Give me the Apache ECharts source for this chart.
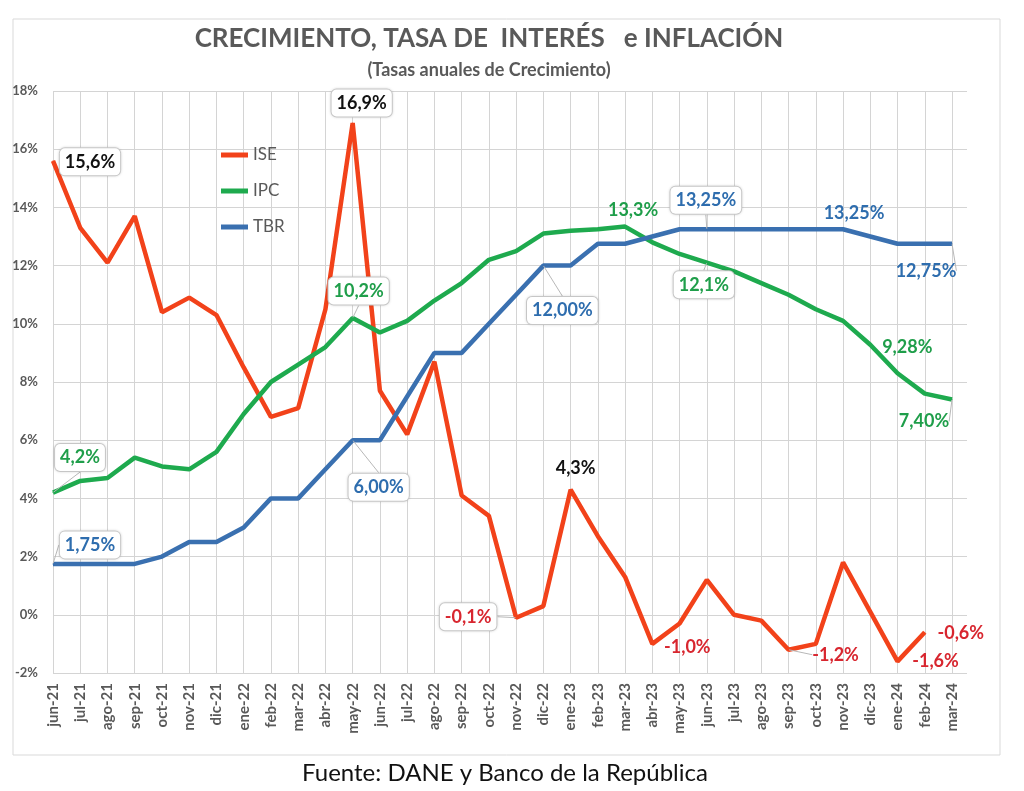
<!DOCTYPE html>
<html><head><meta charset="utf-8">
<script src="https://cdn.jsdelivr.net/npm/echarts@6/dist/echarts.min.js"></script>
<style>html,body{margin:0;padding:0;background:#fff}#c{width:1024px;height:791px}</style>
</head><body><div id="c"></div>
<script>
const categories = ['jun-21','jul-21','ago-21','sep-21','oct-21','nov-21','dic-21','ene-22','feb-22','mar-22','abr-22','may-22','jun-22','jul-22','ago-22','sep-22','oct-22','nov-22','dic-22','ene-23','feb-23','mar-23','abr-23','may-23','jun-23','jul-23','ago-23','sep-23','oct-23','nov-23','dic-23','ene-24','feb-24','mar-24'];
const ise = [15.6,13.3,12.1,13.7,10.4,10.9,10.3,8.5,6.8,7.1,10.5,16.9,7.7,6.2,8.7,4.1,3.4,-0.1,0.3,4.3,2.7,1.3,-1.0,-0.3,1.2,0.0,-0.2,-1.2,-1.0,1.8,0.1,-1.6,-0.6,null];
const ipc = [4.2,4.6,4.7,5.4,5.1,5.0,5.6,6.9,8.0,8.6,9.2,10.2,9.7,10.1,10.8,11.4,12.2,12.5,13.1,13.2,13.25,13.34,12.8,12.4,12.1,11.8,11.4,11.0,10.5,10.1,9.28,8.3,7.6,7.40];
const tbr = [1.75,1.75,1.75,1.75,2.0,2.5,2.5,3.0,4.0,4.0,5.0,6.0,6.0,7.5,9.0,9.0,10.0,11.0,12.0,12.0,12.75,12.75,13.0,13.25,13.25,13.25,13.25,13.25,13.25,13.25,13.0,12.75,12.75,12.75];
const yTicks = {min:-2, max:18, step:2};

const RED='#F2421A', GREEN='#1EAA4E', BLUE='#3A70B0';
const LRED='#D8262F', LGREEN='#1F9E4A', LBLUE='#2E6DAE';
const FONT='Lato';

// label placement: index -> [dx, dy, boxed, color, decimals, leader]
const labelSpec = {
  ISE: {0:[37,1,true,'#111',1],11:[9,-20,true,'#111',1],19:[5,-21,false,'#111',1],17:[-48,-1,true,LRED,1,true],
        22:[35,3,false,LRED,1],27:[47,5,false,LRED,1,true],31:[38,0,false,LRED,1],32:[36,1,false,LRED,1]},
  IPC: {0:[27,-35,true,LGREEN,1,true],11:[6,-27,true,LGREEN,1,true],21:[8,-16,false,LGREEN,1],24:[-3,22,true,LGREEN,1,true],
        30:[37,2,false,LGREEN,2],33:[-28,22,false,LGREEN,2,true]},
  TBR: {0:[37,-19,true,LBLUE,2,true],11:[26,47,true,LBLUE,2,true],18:[19,45,true,LBLUE,2,true],24:[-1,-29,true,LBLUE,2,true],
        29:[11,-16,false,LBLUE,2],33:[-26,27,false,LBLUE,2,true]}
};

function fmt(v,d){return v.toFixed(d).replace('.',',')+'%';}

function buildData(name, arr){
  const spec = labelSpec[name];
  return arr.map((v,i)=>{
    const item = {value:[i, v]};
    const s = spec[i];
    if (s && v!=null){
      item.label = {
        show:true, position:'inside',
        formatter: fmt(v, s[4]),
        color: s[3], fontFamily: FONT, fontWeight:'bold', fontSize:18,
        backgroundColor: s[2] ? '#fff' : 'transparent',
        borderColor: s[2] ? '#cfcfcf' : 'transparent',
        borderWidth: s[2] ? 1 : 0, borderRadius: 5,
        padding: s[2] ? [5,5,4,5] : 0,
        shadowColor: s[2] ? 'rgba(0,0,0,0.12)' : 'transparent', shadowBlur: s[2]?3:0
      };
      item.labelLine = {show: !!s[5], lineStyle:{color:'#b8b8b8', width:1}};
    }
    return item;
  });
}

function layoutFor(name){
  return function(params){
    const s = labelSpec[name][params.dataIndex];
    if (!s) return {};
    return {dx:s[0], dy:s[1]};
  };
}

function mkSeries(name, arr, color){
  return {
    name, type:'line', data: buildData(name, arr),
    symbol:'circle', symbolSize:1, showSymbol:true,
    itemStyle:{color}, lineStyle:{color, width:4.5},
    label:{show:false}, labelLayout: layoutFor(name),
    emphasis:{disabled:true}, animation:false, connectNulls:false, z:2
  };
}

const chart = echarts.init(document.getElementById('c'), null, {renderer:'canvas'});
chart.setOption({
  backgroundColor:'#fff',
  animation:false,
  graphic:[
    {type:'rect', shape:{x:13,y:19,width:987,height:736}, style:{fill:'none', stroke:'#d9d9d9', lineWidth:1}, z:-10},
    {type:'text', x:489, y:39, style:{text:'CRECIMIENTO, TASA DE  INTERÉS   e INFLACIÓN', fill:'#595959', font:'bold 26px '+FONT, textAlign:'center', textVerticalAlign:'middle'}},
    {type:'text', x:489, y:70, style:{text:'(Tasas anuales de Crecimiento)', fill:'#595959', font:'bold 18px '+FONT, textAlign:'center', textVerticalAlign:'middle'}},
    {type:'text', x:505, y:773, style:{text:'Fuente: DANE y Banco de la República', fill:'#111', font:'24px '+FONT, textAlign:'center', textVerticalAlign:'middle'}}
  ],
  legend:{
    orient:'vertical', left:216, top:141, itemWidth:27, itemHeight:5, itemGap:18, icon:'rect',
    textStyle:{color:'#595959', fontFamily:FONT, fontSize:17, lineHeight:18},
    data:['ISE','IPC','TBR']
  },
  grid:{left:53, top:91, right:57, bottom:118, containLabel:false},
  xAxis:{
    type:'value', min:0, max:33.55, interval:1,
    axisLine:{show:false}, axisTick:{show:false},
    splitLine:{show:true, showMaxLine:false, lineStyle:{color:'#d4d4d4', width:1}},
    axisLabel:{rotate:90, margin:10, fontFamily:FONT, fontWeight:'bold', fontSize:15, color:'#595959',
      showMaxLabel:false,
      formatter:function(v){ return Number.isInteger(v) && categories[v] ? categories[v] : ''; }}
  },
  yAxis:{
    type:'value', min:yTicks.min, max:yTicks.max, interval:yTicks.step,
    axisLine:{show:false}, axisTick:{show:false},
    splitLine:{show:true, lineStyle:{color:'#d4d4d4', width:1}},
    axisLabel:{margin:15, fontFamily:FONT, fontWeight:'bold', fontSize:13, color:'#595959', formatter:function(v){return v+'%';}}
  },
  series:[ mkSeries('ISE', ise, RED), mkSeries('IPC', ipc, GREEN), mkSeries('TBR', tbr, BLUE) ]
});
</script></body></html>
